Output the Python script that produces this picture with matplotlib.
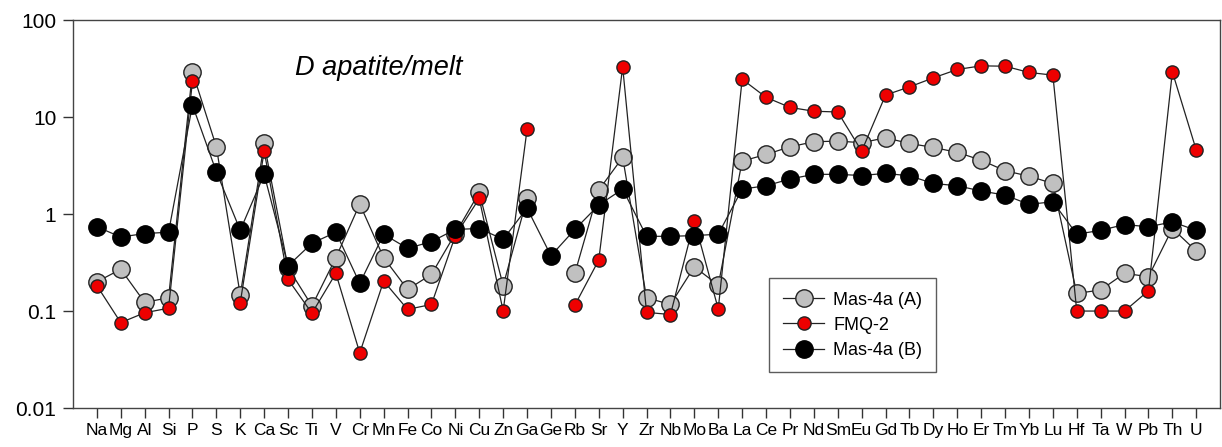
import numpy as np
import matplotlib
matplotlib.use('Agg')
import matplotlib.pyplot as plt

plt.rcParams['font.family'] = ['Liberation Sans', 'DejaVu Sans']

# elements along the x axis
elements = ['Na', 'Mg', 'Al', 'Si', 'P', 'S', 'K', 'Ca', 'Sc', 'Ti', 'V', 'Cr', 'Mn', 'Fe',
            'Co', 'Ni', 'Cu', 'Zn', 'Ga', 'Ge', 'Rb', 'Sr', 'Y', 'Zr', 'Nb', 'Mo', 'Ba',
            'La', 'Ce', 'Pr', 'Nd', 'Sm', 'Eu', 'Gd', 'Tb', 'Dy', 'Ho', 'Er', 'Tm', 'Yb',
            'Lu', 'Hf', 'Ta', 'W', 'Pb', 'Th', 'U']

nan = np.nan

# D apatite/melt, Mas-4a (A)
mas_a = [0.20, 0.27, 0.123, 0.137, 29.3, 4.94, 0.146, 5.35, 0.28, 0.113, 0.355, 1.27, 0.355,
         0.167, 0.239, 0.63, 1.67, 0.183, 1.45, nan, 0.245, 1.77, 3.84, 0.137, 0.117, 0.286,
         0.185, 3.52, 4.12, 4.94, 5.57, 5.66, 5.45, 6.12, 5.35, 4.87, 4.33, 3.6, 2.8, 2.46,
         2.07, 0.152, 0.165, 0.245, 0.226, 0.71, 0.416]

# FMQ-2
fmq = [0.183, 0.076, 0.096, 0.107, 23.5, nan, 0.122, 4.46, 0.212, 0.095, 0.245, 0.037, 0.204,
       0.104, 0.117, 0.60, 1.45, 0.10, 7.47, nan, 0.115, 0.336, 33.0, 0.097, 0.092, 0.85,
       0.105, 24.6, 16.0, 12.6, 11.5, 11.3, 4.46, 16.9, 20.5, 25.4, 31.0, 33.8, 33.5, 28.9,
       27.1, 0.10, 0.10, 0.10, 0.162, 29.3, 4.57]

# Mas-4a (B)
mas_b = [0.74, 0.58, 0.63, 0.65, 13.3, 2.73, 0.68, 2.57, 0.293, 0.50, 0.65, 0.193, 0.62,
         0.443, 0.52, 0.695, 0.71, 0.55, 1.15, 0.372, 0.695, 1.24, 1.81, 0.59, 0.59, 0.60,
         0.62, 1.81, 1.96, 2.3, 2.57, 2.57, 2.5, 2.63, 2.48, 2.07, 1.96, 1.73, 1.57, 1.26,
         1.34, 0.62, 0.68, 0.78, 0.74, 0.83, 0.68]

x = np.arange(len(elements))

fig = plt.figure(figsize=(12.22, 4.47), dpi=100)
ax = fig.add_axes([0.0597, 0.0872, 0.9388, 0.8677])

ax.plot(x, mas_a, '-o', color='#222222', lw=0.9, ms=12.5, mfc='#c0c0c0', mec='#222222',
        mew=1.0, label='Mas-4a (A)', zorder=2)
ax.plot(x, fmq, '-o', color='#222222', lw=0.9, ms=9.5, mfc='#ee0000', mec='#222222',
        mew=1.0, label='FMQ-2', zorder=3)
ax.plot(x, mas_b, '-o', color='#222222', lw=0.9, ms=12.5, mfc='black', mec='black',
        mew=1.0, label='Mas-4a (B)', zorder=4)

ax.set_yscale('log')
ax.set_ylim(0.01, 100)
ax.set_xlim(-1, 47)
ax.set_yticks([0.01, 0.1, 1, 10, 100])
ax.set_yticklabels(['0.01', '0.1', '1', '10', '100'])
ax.minorticks_off()
ax.set_xticks(x)
ax.set_xticklabels(elements)
ax.tick_params(direction='out', length=7, width=1, colors='#333333', labelcolor='black')
ax.tick_params(axis='x', labelsize=12.5, pad=4)
ax.tick_params(axis='y', labelsize=15, pad=5)
for sp in ax.spines.values():
    sp.set_color('#444444')
    sp.set_linewidth(1.0)

ax.text(11.8, 32, 'D apatite/melt', fontsize=19.5, style='italic', ha='center', va='center')

leg = ax.legend(loc='upper left', bbox_to_anchor=(0.607, 0.335), borderaxespad=0,
                fontsize=13, frameon=True, fancybox=False, edgecolor='#333333',
                handlelength=2.3, borderpad=0.75, labelspacing=0.45, handletextpad=0.5)
leg.get_frame().set_linewidth(1.0)

fig.savefig('out.png', dpi=100)
